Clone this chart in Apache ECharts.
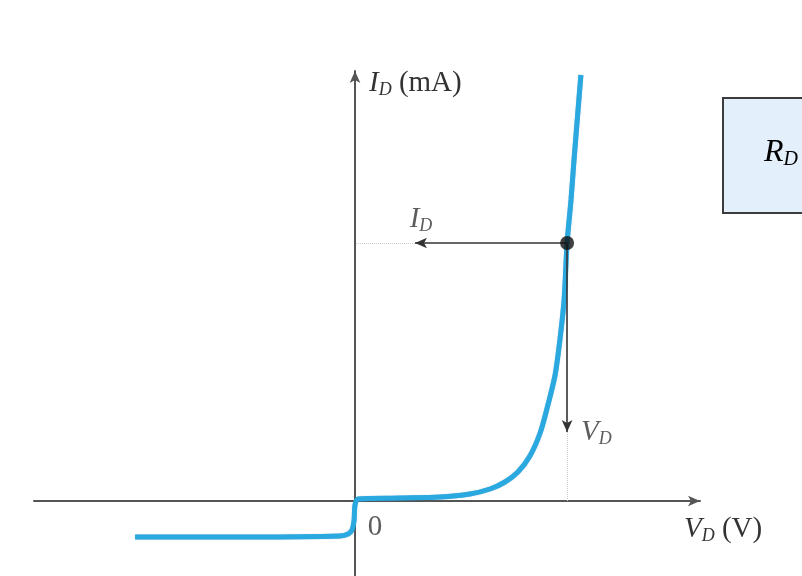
<!DOCTYPE html>
<html>
<head>
<meta charset="utf-8">
<script src="https://cdn.jsdelivr.net/npm/echarts@6/dist/echarts.min.js"></script>
<style>html,body{margin:0;padding:0;background:#fff}#c{width:802px;height:576px}</style>
</head>
<body>
<div id="c"></div>
<script>
// Diode characteristic: V_D (V) vs I_D (mA)
const curveV = [-0.733, -0.35, -0.05, -0.023, -0.01, -0.003, 0.0, 0.01, 0.15, 0.283, 0.383, 0.45, 0.5, 0.543, 0.583, 0.617, 0.643, 0.667, 0.683, 0.697, 0.707, 0.72, 0.73, 0.753];
const curveI = [-1.44, -1.44, -1.40, -1.32, -1.16, -0.76, -0.16, 0.08, 0.12, 0.16, 0.28, 0.48, 0.76, 1.16, 1.80, 2.72, 3.84, 5.04, 6.44, 8.04, 10.32, 12.04, 13.64, 17.04];
const opV = 0.707;   // operating point V_D
const opI = 10.32;   // operating point I_D
const arrowV = 0.2;  // where the I_D arrow head sits
const arrowI = 2.76; // where the V_D arrow head sits
const xRange = [-1.07, 1.15];
const yRange = [-3.0, 17.2];

const serif = '"Liberation Serif","DejaVu Serif",serif';
const txt = '#333';
const rich = {
  i: {fontFamily: serif, fontStyle: 'italic', fontSize: 29, color: txt, lineHeight: 36, verticalAlign: 'middle'},
  s: {fontFamily: serif, fontStyle: 'italic', fontSize: 18, color: txt, lineHeight: 36, padding: [15, 0, 0, 0]},
  n: {fontFamily: serif, fontSize: 29, color: txt, lineHeight: 36}
};

const chart = echarts.init(document.getElementById('c'));
chart.setOption({
  animation: false,
  grid: {left: 34, right: 102, top: 71, bottom: 0},
  xAxis: {
    type: 'value', min: xRange[0], max: xRange[1],
    axisLine: {onZero: true, symbol: ['none', 'arrow'], symbolSize: [8, 12], lineStyle: {color: '#555', width: 2}},
    axisTick: {show: false}, axisLabel: {show: false}, splitLine: {show: false},
    name: '{i|V}{s|D}{n| (V)}', nameLocation: 'end', nameGap: -16,
    nameTextStyle: {align: 'left', verticalAlign: 'top', padding: [10, 0, 0, 0], rich: rich}
  },
  yAxis: {
    type: 'value', min: yRange[0], max: yRange[1],
    axisLine: {onZero: true, symbol: ['none', 'arrow'], symbolSize: [8, 12], lineStyle: {color: '#555', width: 2}},
    axisTick: {show: false}, axisLabel: {show: false}, splitLine: {show: false},
    name: '{i|I}{s|D}{n| (mA)}', nameLocation: 'end', nameGap: -12,
    nameTextStyle: {align: 'left', verticalAlign: 'middle', padding: [0, 0, 0, 14], rich: rich}
  },
  graphic: [
    {type: 'rect', left: 722, top: 97, shape: {width: 100, height: 115},
     style: {fill: '#e3f0fb', stroke: '#3c3c3c', lineWidth: 2}},
    {type: 'text', left: 764, top: 136,
     style: {text: '{i|R}{s|D}', rich: {
       i: {fontFamily: serif, fontStyle: 'italic', fontSize: 32, color: '#222', lineHeight: 36},
       s: {fontFamily: serif, fontStyle: 'italic', fontSize: 20, color: '#222', lineHeight: 36, padding: [14, 0, 0, 0]}}}}
  ],
  series: [
    {
      type: 'line', data: curveV.map((v, k) => [v, curveI[k]]),
      showSymbol: false, smooth: 0.3, z: 3,
      lineStyle: {color: '#2aa9e1', width: 5, shadowColor: 'rgba(20,110,170,0.5)', shadowBlur: 1}
    },
    {
      type: 'scatter', data: [[opV, opI]], symbolSize: 14, z: 5,
      itemStyle: {color: '#111'},
      markLine: {
        silent: true, symbol: ['none', 'arrow'], symbolSize: [8, 12], label: {show: false},
        lineStyle: {color: '#333', width: 1.6, type: 'solid'},
        data: [
          [{coord: [opV, opI]}, {coord: [arrowV, opI]}],
          [{coord: [opV, opI]}, {coord: [opV, arrowI]}],
          [{coord: [arrowV, opI], symbol: 'none', lineStyle: {color: '#ccc', width: 1, type: 'dotted'}},
           {coord: [0, opI], symbol: 'none'}],
          [{coord: [opV, arrowI], symbol: 'none', lineStyle: {color: '#ccc', width: 1, type: 'dotted'}},
           {coord: [opV, 0], symbol: 'none'}]
        ]
      }
    },
    {
      type: 'scatter', symbolSize: 0, silent: true,
      data: [
        {value: [arrowV, opI], label: {show: true, formatter: '{i|I}{s|D}', position: 'top', distance: 6, offset: [6, 0], rich: rich}},
        {value: [opV, arrowI], label: {show: true, formatter: '{i|V}{s|D}', position: 'right', distance: 14, rich: rich}},
        {value: [0, 0], label: {show: true, formatter: '{n|0}', position: 'bottom', distance: 8, offset: [20, 0], rich: rich}}
      ]
    }
  ]
});
</script>
</body>
</html>
